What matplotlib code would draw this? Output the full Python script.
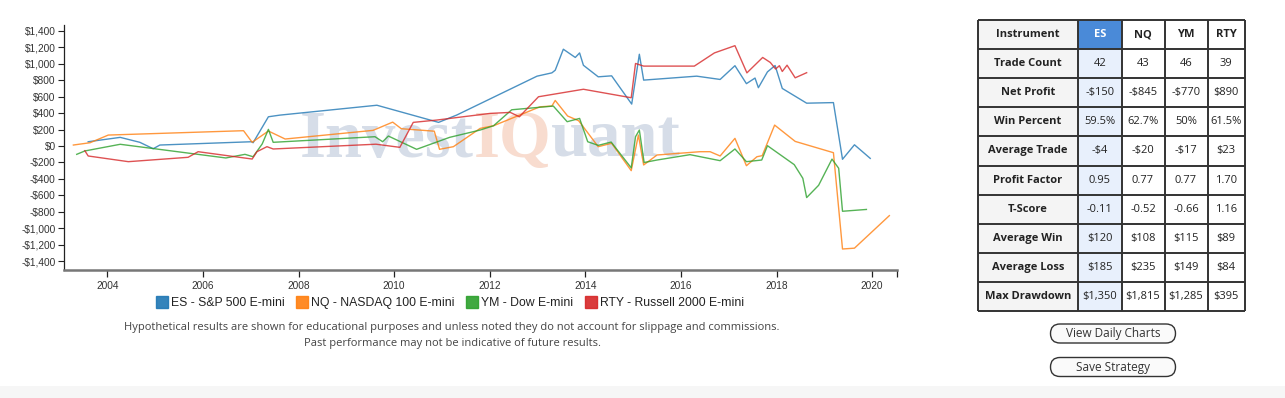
import matplotlib
matplotlib.use("Agg")
import matplotlib.pyplot as plt
from matplotlib.lines import Line2D
from matplotlib.patches import Rectangle, FancyBboxPatch
from matplotlib.offsetbox import TextArea, HPacker, AnnotationBbox
from matplotlib.ticker import FuncFormatter

# ---------------- data ----------------
es_x = [2003.60, 2004.27, 2004.68, 2004.96, 2005.10, 2007.02, 2007.05, 2007.37, 2007.61, 2009.64,
        2010.93, 2011.31, 2012.99, 2013.30, 2013.37, 2013.54, 2013.79, 2013.88, 2013.96, 2014.27,
        2014.55, 2014.97, 2015.13, 2015.22, 2016.33, 2016.82, 2017.13, 2017.37, 2017.55, 2017.62,
        2017.81, 2017.97, 2018.12, 2018.63, 2019.19, 2019.38, 2019.63, 2019.96]
es_y = [52, 105, 45, -33, 12, 52, 40, 355, 375, 495,
        287, 376, 848, 888, 920, 1175, 1075, 1130, 980, 840,
        852, 509, 1114, 800, 848, 808, 975, 757, 825, 708,
        900, 977, 699, 520, 527, -161, 15, -150]

nq_x = [2003.29, 2003.64, 2004.02, 2006.85, 2007.03, 2007.37, 2007.72, 2009.56, 2009.97, 2010.15,
        2010.84, 2010.95, 2011.24, 2011.80, 2012.08, 2013.05, 2013.30, 2013.37, 2013.63, 2013.86,
        2014.27, 2014.55, 2014.96, 2015.11, 2015.22, 2015.50, 2016.40, 2016.61, 2016.82, 2017.13,
        2017.37, 2017.59, 2017.70, 2017.96, 2018.39, 2019.19, 2019.38, 2019.63, 2020.36]
nq_y = [12, 40, 133, 186, 45, 182, 85, 190, 290, 210,
        180, -40, -8, 214, 246, 476, 485, 553, 364, 307,
        -8, 33, -299, 133, -230, -109, -69, -69, -121, 93,
        -239, -130, -117, 254, 56, -81, -1250, -1240, -845]

ym_x = [2003.36, 2003.53, 2004.27, 2006.48, 2006.88, 2007.05, 2007.24, 2007.37, 2007.47, 2009.60,
        2009.76, 2009.88, 2010.47, 2011.16, 2011.80, 2012.08, 2012.46, 2013.33, 2013.62, 2013.88,
        2014.05, 2014.27, 2014.54, 2014.96, 2015.05, 2015.13, 2015.23, 2015.50, 2016.19, 2016.82,
        2017.13, 2017.37, 2017.69, 2017.81, 2018.37, 2018.55, 2018.63, 2018.88, 2019.16, 2019.30,
        2019.38, 2019.88]
ym_y = [-101, -60, 21, -145, -101, -130, 25, 202, 45, 113,
        52, 121, -40, 105, 194, 246, 440, 485, 295, 335,
        52, 8, 48, -265, 113, 194, -200, -170, -105, -178,
        -36, -190, -170, 4, -226, -392, -626, -477, -159, -270,
        -792, -770]

rty_x = [2003.53, 2003.60, 2004.44, 2005.69, 2005.90, 2007.03, 2007.13, 2007.34, 2007.47, 2009.62,
         2010.12, 2010.40, 2010.89, 2012.01, 2012.43, 2012.62, 2013.02, 2013.96, 2014.96, 2015.05,
         2015.22, 2016.28, 2016.70, 2017.13, 2017.38, 2017.71, 2017.87, 2017.98, 2018.06, 2018.12,
         2018.22, 2018.39, 2018.63]
rty_y = [-57, -121, -190, -137, -69, -158, -69, -8, -36, 22,
         -16, 287, 315, 396, 408, 355, 598, 689, 586, 1002,
         970, 970, 1130, 1218, 888, 1075, 1014, 935, 975, 905,
         981, 828, 890]

series_labels = ["ES - S&P 500 E-mini", "NQ - NASDAQ 100 E-mini", "YM - Dow E-mini", "RTY - Russell 2000 E-mini"]
series_colors = ["#1f77b4", "#ff7f0e", "#2ca02c", "#d62728"]

y_ticks = list(range(-1400, 1401, 200))
x_ticks = list(range(2004, 2021, 2))

table_header = ["Instrument", "ES", "NQ", "YM", "RTY"]
row_labels = ["Trade Count", "Net Profit", "Win Percent", "Average Trade", "Profit Factor",
              "T-Score", "Average Win", "Average Loss", "Max Drawdown"]
col_es = ["42", "-$150", "59.5%", "-$4", "0.95", "-0.11", "$120", "$185", "$1,350"]
col_nq = ["43", "-$845", "62.7%", "-$20", "0.77", "-0.52", "$108", "$235", "$1,815"]
col_ym = ["46", "-$770", "50%", "-$17", "0.77", "-0.66", "$115", "$149", "$1,285"]
col_rty = ["39", "$890", "61.5%", "$23", "1.70", "1.16", "$89", "$84", "$395"]

footnote = ("Hypothetical results are shown for educational purposes and unless noted they do not account for slippage and commissions.\n"
            "Past performance may not be indicative of future results.")
buttons = ["View Daily Charts", "Save Strategy"]

# ---------------- figure ----------------
W, H = 1285, 398
fig = plt.figure(figsize=(W / 100, H / 100), dpi=100)
fig.patch.set_facecolor("white")

# overlay axes in pixel coords (for table, buttons, background)
ov = fig.add_axes([0, 0, 1, 1], zorder=0)
ov.set_xlim(0, W)
ov.set_ylim(H, 0)
ov.axis("off")
ov.add_patch(Rectangle((0, 386), W, 12, facecolor="#f6f6f6", edgecolor="none"))

ax = fig.add_axes([64 / W, 1 - 270 / H, (897 - 64) / W, (270 - 25) / H], zorder=2)
ax.patch.set_alpha(0)
ax.set_xlim(2003.094, 2020.52)
ax.set_ylim(-1505, 1469)

# watermark
wm_props = dict(fontfamily="Liberation Serif", fontweight="bold", fontsize=48)
pk = HPacker(children=[TextArea("Invest", textprops=dict(color="#d6dde8", **wm_props)),
                       TextArea("IQ", textprops=dict(color="#f8dccf", **wm_props)),
                       TextArea("uant", textprops=dict(color="#d6dde8", **wm_props))],
             sep=0, pad=0, align="baseline")
ab = AnnotationBbox(pk, ((490 - 64) / 833, (270 - 140) / 245), xycoords="axes fraction",
                    frameon=False, box_alignment=(0.5, 0.5), zorder=0)
ax.add_artist(ab)

for xs, ys, c in zip([es_x, nq_x, ym_x, rty_x], [es_y, nq_y, ym_y, rty_y], series_colors):
    ax.plot(xs, ys, color=c, lw=1.0, alpha=0.8, zorder=3)

ax.set_yticks(y_ticks)
ax.yaxis.set_major_formatter(FuncFormatter(lambda v, p: ("-$" if v < 0 else "$") + f"{abs(int(v)):,}"))
ax.set_xticks(x_ticks)
ax.set_xticks([2020.52], minor=True)
for s in ["top", "right"]:
    ax.spines[s].set_visible(False)
ax.spines["left"].set_color("#222")
ax.spines["left"].set_linewidth(0.9)
ax.spines["bottom"].set_color("#777")
ax.spines["bottom"].set_linewidth(1.8)
ax.tick_params(axis="y", labelsize=7.3, length=4, width=0.8, color="#222", labelcolor="#333", pad=2)
ax.tick_params(axis="x", which="both", labelsize=7.3, length=5, width=0.9, color="#222", labelcolor="#333", pad=3)
for t in ax.get_xticklabels() + ax.get_yticklabels():
    t.set_fontfamily("Liberation Sans")

# legend
handles = [Line2D([], [], marker="s", ls="none", markersize=8, color=c, alpha=0.9) for c in series_colors]
fig.legend(handles, series_labels, loc="center", bbox_to_anchor=(450 / W, 1 - 303 / H), ncol=4,
           frameon=False, prop=dict(family="Liberation Sans", size=8.8), handletextpad=0.25,
           columnspacing=0.9, handlelength=1.0, labelcolor="#222")

fig.text(452 / W, 1 - 335.5 / H, footnote, ha="center", va="center", fontsize=8, color="#444",
         family="Open Sans", linespacing=1.6)

# ---------------- table ----------------
col_x = [978, 1078, 1121.5, 1164.5, 1207.5, 1244.5]
top, rh = 20, 29.1
cols = [row_labels, col_es, col_nq, col_ym, col_rty]
n_rows = len(row_labels) + 1
for r in range(n_rows):
    y0 = top + r * rh
    for c in range(5):
        x0, x1 = col_x[c], col_x[c + 1]
        if c == 1:
            fc = "#4a8ad8" if r == 0 else "#e8f0fc"
        elif c == 0:
            fc = "#f4f4f4"
        else:
            fc = "white"
        ov.add_patch(Rectangle((x0, y0), x1 - x0, rh, facecolor=fc, edgecolor="none"))
        if r == 0:
            txt = table_header[c]
            color = "white" if c == 1 else "#222"
            ov.text((x0 + x1) / 2, y0 + rh / 2, txt, ha="center", va="center", fontsize=8,
                    fontweight="bold", family="Open Sans", color=color)
        else:
            txt = cols[c][r - 1]
            ov.text((x0 + x1) / 2, y0 + rh / 2, txt, ha="center", va="center", fontsize=8,
                    fontweight="bold" if c == 0 else "normal", family="Open Sans", color="#222")
# grid lines
for r in range(n_rows + 1):
    y = top + r * rh
    ov.plot([col_x[0], col_x[-1]], [y, y], color="#333", lw=1.4, solid_capstyle="butt")
for x in col_x:
    ov.plot([x, x], [top, top + n_rows * rh], color="#333", lw=1.4, solid_capstyle="butt")

# buttons
for i, b in enumerate(buttons):
    y0 = 324 + i * 33.5
    ov.add_patch(FancyBboxPatch((1050.5, y0), 125, 19, boxstyle="round,pad=0,rounding_size=9.5",
                                facecolor="#fafafa", edgecolor="#333", lw=1.0))
    ov.text(1113, y0 + 9.8, b, ha="center", va="center", fontsize=8.5, family="Open Sans", color="#333")

fig.savefig("out.png", dpi=100)
